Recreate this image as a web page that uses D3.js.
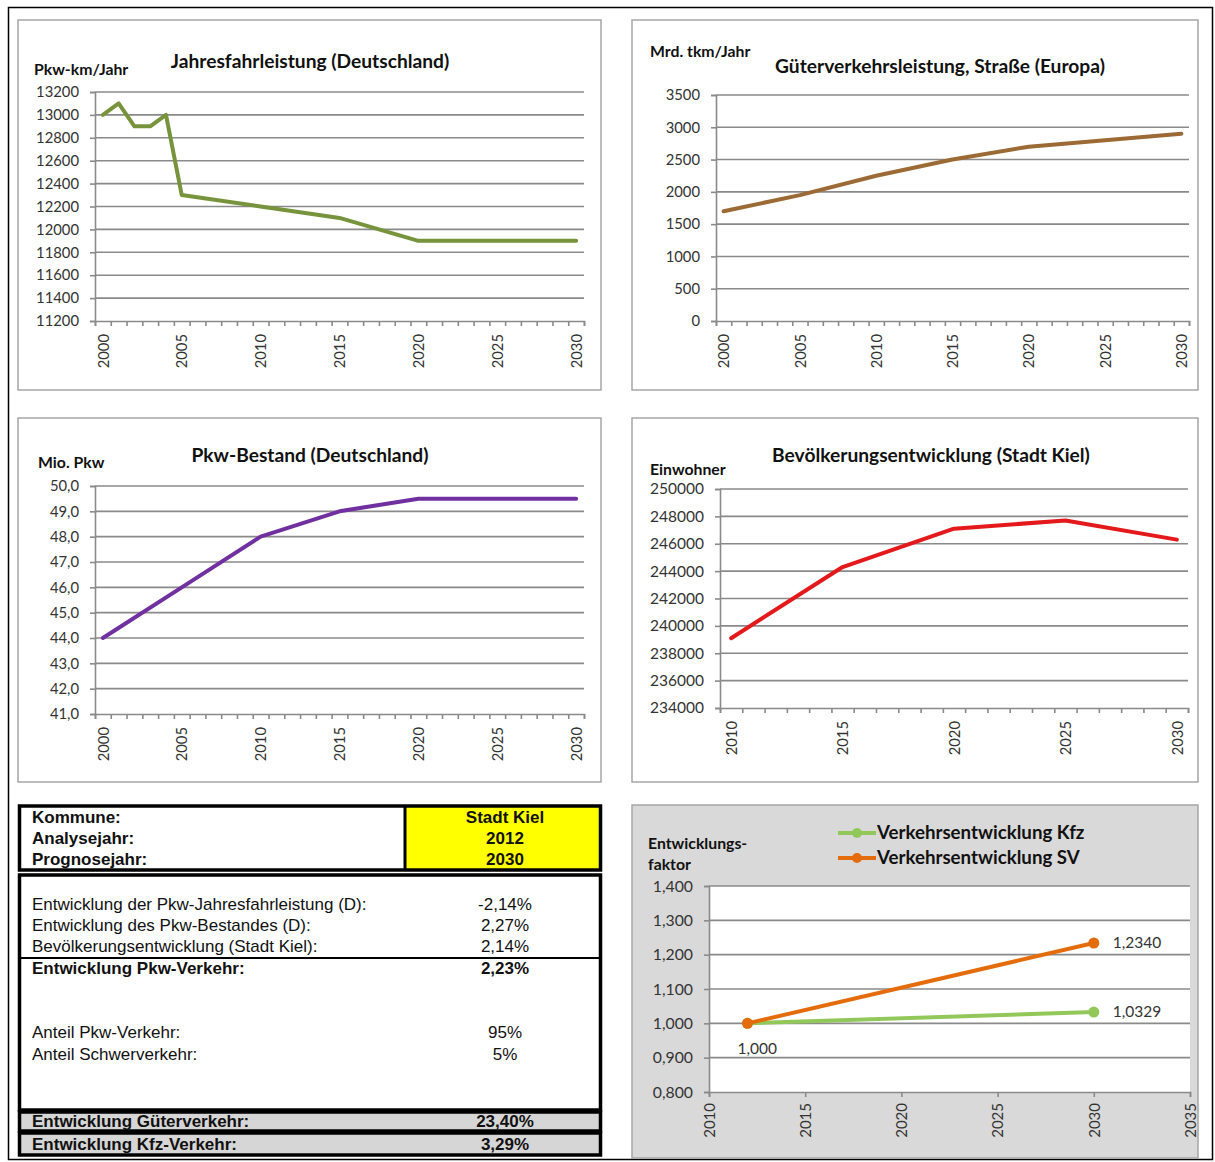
<!DOCTYPE html>
<html lang="de">
<head>
<meta charset="UTF-8">
<script src="https://d3js.org/d3.v7.min.js"></script>
<style>
  body { margin: 0; background: #fff; }
  svg { display: block; }
</style>
</head>
<body>
<script>
// ---- data ----
const jfYears = [2000, 2001, 2002, 2003, 2004, 2005, 2010, 2015, 2020, 2030];
const jfValues = [13000, 13100, 12900, 12900, 13000, 12300, 12200, 12100, 11900, 11900];
const jfTicks = [11200, 11400, 11600, 11800, 12000, 12200, 12400, 12600, 12800, 13000, 13200];

const gvYears = [2000, 2005, 2010, 2015, 2020, 2025, 2030];
const gvValues = [1700, 1950, 2250, 2500, 2700, 2800, 2900];
const gvTicks = [0, 500, 1000, 1500, 2000, 2500, 3000, 3500];

const pbYears = [2000, 2005, 2010, 2015, 2020, 2030];
const pbValues = [44.0, 46.0, 48.0, 49.0, 49.5, 49.5];
const pbTicks = [41, 42, 43, 44, 45, 46, 47, 48, 49, 50];

const bvYears = [2010, 2015, 2020, 2025, 2030];
const bvValues = [239100, 244300, 247100, 247700, 246300];
const bvTicks = [234000, 236000, 238000, 240000, 242000, 244000, 246000, 248000, 250000];

const yearLabels = [2000, 2005, 2010, 2015, 2020, 2025, 2030];
const yearLabelsKiel = [2010, 2015, 2020, 2025, 2030];

const efYears = [2012, 2030];
const kfzValues = [1.000, 1.0329];
const svValues = [1.000, 1.2340];
const efTicks = [0.8, 0.9, 1.0, 1.1, 1.2, 1.3, 1.4];
const efYearTicks = [2010, 2015, 2020, 2025, 2030, 2035];

const headLabels = ["Kommune:", "Analysejahr:", "Prognosejahr:"];
const headValues = ["Stadt Kiel", "2012", "2030"];
const inputLabels = ["Entwicklung der Pkw-Jahresfahrleistung (D):", "Entwicklung des Pkw-Bestandes (D):", "Bevölkerungsentwicklung (Stadt Kiel):"];
const inputValues = ["-2,14%", "2,27%", "2,14%"];
const shareLabels = ["Anteil Pkw-Verkehr:", "Anteil Schwerverkehr:"];
const shareValues = ["95%", "5%"];

const de = d3.formatLocale({decimal: ",", thousands: ".", grouping: [3], currency: ["", "€"]});

const W = 1215, H = 1162;
const chartFont = "Lato, 'Open Sans', sans-serif";
const tableFont = "'Liberation Sans', Arial, sans-serif";
const grid = "#8a8a8a";

const svg = d3.select("body").append("svg").attr("width", W).attr("height", H);

// outer frame
svg.append("rect").attr("x", 8.5).attr("y", 7.5).attr("width", 1204).attr("height", 1152)
  .attr("fill", "none").attr("stroke", "#000").attr("stroke-width", 1.5);

function linePanel(c) {
  const g = svg.append("g").attr("font-family", chartFont);
  g.append("rect").attr("x", c.box[0]).attr("y", c.box[1])
    .attr("width", c.box[2] - c.box[0]).attr("height", c.box[3] - c.box[1])
    .attr("fill", "#fff").attr("stroke", "#a6a6a6").attr("stroke-width", 1.5);

  const first = c.cats[0], last = c.cats[1];
  const x = d3.scaleLinear().domain([first - 0.5, last + 0.5]).range([c.plot[0], c.plot[1]]);
  const y = d3.scaleLinear().domain(d3.extent(c.yTicks)).range([c.plot[3], c.plot[2]]);

  // gridlines
  g.append("g").selectAll("line").data(c.yTicks.slice(1)).join("line")
    .attr("x1", c.plot[0]).attr("x2", c.plot[1])
    .attr("y1", d => y(d)).attr("y2", d => y(d))
    .attr("stroke", grid).attr("stroke-width", 1.6);

  // y axis
  const ya = g.append("g").attr("transform", `translate(${c.plot[0]},0)`)
    .call(d3.axisLeft(y).tickValues(c.yTicks).tickSize(5).tickPadding(11).tickFormat(c.yFmt));
  ya.select(".domain").attr("stroke", grid).attr("stroke-width", 1.6);
  ya.selectAll(".tick line").attr("stroke", grid).attr("stroke-width", 1.6);
  ya.selectAll("text").attr("font-size", c.tickSize || 14.8).attr("fill", "#333").attr("font-family", chartFont);

  // x axis: tick marks between categories
  const xa = g.append("g").attr("transform", `translate(0,${c.plot[3]})`)
    .call(d3.axisBottom(x).tickValues(d3.range(first - 0.5, last + 1, 1)).tickSize(5).tickFormat(""));
  xa.select(".domain").attr("stroke", grid).attr("stroke-width", 1.6);
  xa.selectAll(".tick line").attr("stroke", grid).attr("stroke-width", 1.6);

  const xl = g.append("g").attr("transform", `translate(0,${c.plot[3]})`)
    .call(d3.axisBottom(x).tickValues(c.labels).tickSize(0).tickFormat(d3.format("d")));
  xl.select(".domain").remove();
  xl.selectAll("text")
    .attr("transform", "rotate(-90)").attr("text-anchor", "end")
    .attr("x", -13).attr("y", 0).attr("dy", "0.35em")
    .attr("font-size", 14.8).attr("fill", "#333").attr("font-family", chartFont);

  // series
  const pts = c.years.map((yr, i) => [yr, c.values[i]]);
  g.append("path").datum(pts)
    .attr("fill", "none").attr("stroke", c.color).attr("stroke-width", 4)
    .attr("stroke-linejoin", "round").attr("stroke-linecap", "round")
    .attr("d", d3.line().x(d => x(d[0])).y(d => y(d[1])));

  // texts
  g.append("text").attr("x", c.unit[0]).attr("y", c.unit[1]).text(c.unitText)
    .attr("font-size", 15.8).attr("font-weight", 700).attr("fill", "#111");
  g.append("text").attr("x", c.title[0]).attr("y", c.title[1]).text(c.titleText)
    .attr("text-anchor", "middle").attr("font-size", 19.2).attr("font-weight", 700).attr("fill", "#111");
}

linePanel({
  box: [18, 20, 601, 390], plot: [95, 584, 92, 321], cats: [2000, 2030],
  yTicks: jfTicks, yFmt: d3.format("d"), labels: yearLabels,
  years: jfYears, values: jfValues, color: "#77933c",
  unit: [34, 75], unitText: "Pkw-km/Jahr",
  title: [310, 68], titleText: "Jahresfahrleistung (Deutschland)"
});

linePanel({
  box: [632, 20, 1198, 390], plot: [716, 1189, 95, 321], cats: [2000, 2030],
  yTicks: gvTicks, yFmt: d3.format("d"), labels: yearLabels,
  years: gvYears, values: gvValues, color: "#9c6a34",
  unit: [650, 57], unitText: "Mrd. tkm/Jahr",
  title: [940, 73], titleText: "Güterverkehrsleistung, Straße (Europa)"
});

linePanel({
  box: [18, 418, 601, 782], plot: [95, 584, 486, 714], cats: [2000, 2030],
  yTicks: pbTicks, yFmt: de.format(".1f"), labels: yearLabels,
  years: pbYears, values: pbValues, color: "#7030a0",
  unit: [38, 468], unitText: "Mio. Pkw",
  title: [310, 462], titleText: "Pkw-Bestand (Deutschland)"
});

linePanel({
  box: [632, 418, 1198, 782], plot: [720, 1188, 489, 708], cats: [2010, 2030],
  yTicks: bvTicks, yFmt: d3.format("d"), labels: yearLabelsKiel, tickSize: 15.5,
  years: bvYears, values: bvValues, color: "#e3191c",
  unit: [650, 475], unitText: "Einwohner",
  title: [931, 462], titleText: "Bevölkerungsentwicklung (Stadt Kiel)"
});

// ---- table ----
const t = svg.append("g").attr("font-family", tableFont).attr("font-size", 17).attr("fill", "#111");
// header box
t.append("rect").attr("x", 406).attr("y", 806).attr("width", 195).attr("height", 64).attr("fill", "#ffff00");
t.append("rect").attr("x", 19.5).attr("y", 806).attr("width", 581).attr("height", 64)
  .attr("fill", "none").attr("stroke", "#000").attr("stroke-width", 3.5);
t.append("line").attr("x1", 405).attr("x2", 405).attr("y1", 806).attr("y2", 870)
  .attr("stroke", "#000").attr("stroke-width", 3);
// body box
t.append("rect").attr("x", 19.5).attr("y", 875).attr("width", 581).attr("height", 235)
  .attr("fill", "#fff").attr("stroke", "#000").attr("stroke-width", 3.5);
t.append("line").attr("x1", 19.5).attr("x2", 600.5).attr("y1", 958).attr("y2", 958)
  .attr("stroke", "#000").attr("stroke-width", 1.8);
// grey result rows
[[1112, 19], [1133, 22]].forEach(([yy, hh]) => {
  t.append("rect").attr("x", 19.5).attr("y", yy).attr("width", 581).attr("height", hh)
    .attr("fill", "#d6d6d6").attr("stroke", "#000").attr("stroke-width", 3.5);
});

headLabels.forEach((s, i) => {
  t.append("text").attr("x", 32).attr("y", 823 + i * 21).attr("font-weight", 700).text(s);
  t.append("text").attr("x", 505).attr("y", 823 + i * 21).attr("font-weight", 700)
    .attr("text-anchor", "middle").text(headValues[i]);
});
inputLabels.forEach((s, i) => {
  t.append("text").attr("x", 32).attr("y", 910 + i * 21).text(s);
  t.append("text").attr("x", 505).attr("y", 910 + i * 21).attr("text-anchor", "middle").text(inputValues[i]);
});
t.append("text").attr("x", 32).attr("y", 974).attr("font-weight", 700).text("Entwicklung Pkw-Verkehr:");
t.append("text").attr("x", 505).attr("y", 974).attr("font-weight", 700).attr("text-anchor", "middle").text("2,23%");
shareLabels.forEach((s, i) => {
  t.append("text").attr("x", 32).attr("y", 1038 + i * 22).text(s);
  t.append("text").attr("x", 505).attr("y", 1038 + i * 22).attr("text-anchor", "middle").text(shareValues[i]);
});
t.append("text").attr("x", 32).attr("y", 1127).attr("font-weight", 700).text("Entwicklung Güterverkehr:");
t.append("text").attr("x", 505).attr("y", 1127).attr("font-weight", 700).attr("text-anchor", "middle").text("23,40%");
t.append("text").attr("x", 32).attr("y", 1150).attr("font-weight", 700).text("Entwicklung Kfz-Verkehr:");
t.append("text").attr("x", 505).attr("y", 1150).attr("font-weight", 700).attr("text-anchor", "middle").text("3,29%");

// ---- Entwicklungsfaktor chart ----
const e = svg.append("g").attr("font-family", chartFont);
e.append("rect").attr("x", 632).attr("y", 805).attr("width", 566).attr("height", 353)
  .attr("fill", "#d9d9d9").attr("stroke", "#a6a6a6").attr("stroke-width", 1.5);
const ex = d3.scaleLinear().domain([2010, 2035]).range([709, 1190]);
const ey = d3.scaleLinear().domain([0.8, 1.4]).range([1092, 886]);
e.append("rect").attr("x", 709).attr("y", 886).attr("width", 481).attr("height", 206).attr("fill", "#fff");
e.append("g").selectAll("line").data(efTicks.slice(1)).join("line")
  .attr("x1", 709).attr("x2", 1190).attr("y1", d => ey(d)).attr("y2", d => ey(d))
  .attr("stroke", grid).attr("stroke-width", 1.6);
const eya = e.append("g").attr("transform", "translate(709,0)")
  .call(d3.axisLeft(ey).tickValues(efTicks).tickSize(5).tickPadding(11).tickFormat(de.format(".3f")));
eya.select(".domain").attr("stroke", grid).attr("stroke-width", 1.6);
eya.selectAll(".tick line").attr("stroke", grid).attr("stroke-width", 1.6);
eya.selectAll("text").attr("font-size", 15.8).attr("fill", "#333").attr("font-family", chartFont);
const exa = e.append("g").attr("transform", "translate(0,1092)")
  .call(d3.axisBottom(ex).tickValues(efYearTicks).tickSize(5).tickFormat(d3.format("d")));
exa.select(".domain").attr("stroke", grid).attr("stroke-width", 1.6);
exa.selectAll(".tick line").attr("stroke", grid).attr("stroke-width", 1.6);
exa.selectAll("text")
  .attr("transform", "rotate(-90)").attr("text-anchor", "end")
  .attr("x", -11).attr("y", 0).attr("dy", "0.35em")
  .attr("font-size", 15).attr("fill", "#333").attr("font-family", chartFont);

const efSeries = [
  {name: "Verkehrsentwicklung Kfz", values: kfzValues, color: "#92c85a", fmt: de.format(".4f")},
  {name: "Verkehrsentwicklung SV", values: svValues, color: "#e46c0a", fmt: de.format(".4f")}
];
efSeries.forEach(s => {
  const pts = efYears.map((yr, i) => [yr, s.values[i]]);
  e.append("path").datum(pts).attr("fill", "none").attr("stroke", s.color).attr("stroke-width", 4)
    .attr("d", d3.line().x(d => ex(d[0])).y(d => ey(d[1])));
  e.append("g").selectAll("circle").data(pts).join("circle")
    .attr("cx", d => ex(d[0])).attr("cy", d => ey(d[1])).attr("r", 5.5).attr("fill", s.color);
  const lp = pts[pts.length - 1];
  e.append("text").attr("x", ex(lp[0]) + 19).attr("y", ey(lp[1]) + 5)
    .attr("font-size", 15.5).attr("fill", "#333").text(s.fmt(lp[1]));
});
e.append("text").attr("x", ex(efYears[0]) - 10).attr("y", ey(svValues[0]) + 31)
  .attr("font-size", 15.5).attr("fill", "#333").text(de.format(".3f")(svValues[0]));

// legend
efSeries.forEach((s, i) => {
  const ly = 833 + i * 25;
  e.append("line").attr("x1", 838).attr("x2", 876).attr("y1", ly).attr("y2", ly)
    .attr("stroke", s.color).attr("stroke-width", 4);
  e.append("circle").attr("cx", 857).attr("cy", ly).attr("r", 5).attr("fill", s.color);
  e.append("text").attr("x", 877).attr("y", ly + 6).attr("font-size", 18.7).attr("font-weight", 700)
    .attr("fill", "#111").text(s.name);
});
e.append("text").attr("x", 648).attr("y", 849).attr("font-size", 15.8).attr("font-weight", 700)
  .attr("fill", "#111").text("Entwicklungs-");
e.append("text").attr("x", 648).attr("y", 870).attr("font-size", 15.8).attr("font-weight", 700)
  .attr("fill", "#111").text("faktor");
</script>
</body>
</html>
